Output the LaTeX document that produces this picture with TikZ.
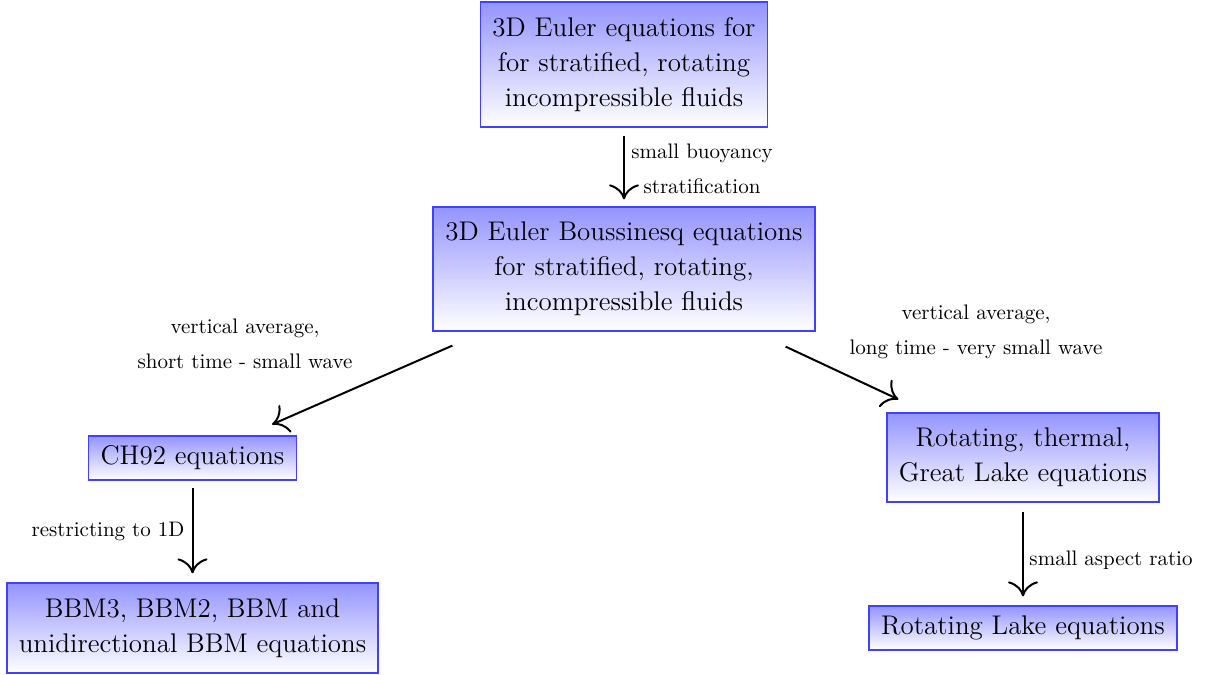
\documentclass[tikz,border=0pt]{standalone}
\usepackage{fontspec}
\usetikzlibrary{arrows.meta}
\tikzset{
  box/.style={draw=blue!75, line width=0.6pt, top color=blue!42, bottom color=white,
    align=center, inner sep=0pt, font=\fontsize{13.5}{17.5}\selectfont},
  lbl/.style={align=center, inner sep=0pt, font=\fontsize{10.5}{17.5}\selectfont},
  arr/.style={line width=1pt, -{To[length=7.5pt,width=15pt]}},
}
\begin{document}
\begin{tikzpicture}[x=0.5pt,y=-0.5pt]
\useasboundingbox (0,0) rectangle (1206,675);
\node[box, minimum width=143.5pt, minimum height=62.5pt] (b1) at (624,64.5)
  {3D Euler equations for\\for stratified, rotating\\incompressible fluids};
\node[box, minimum width=191pt, minimum height=62pt] (b2) at (624,269)
  {3D Euler Boussinesq equations\\for stratified, rotating,\\incompressible fluids};
\node[box, minimum width=104pt, minimum height=22pt] (ch) at (192.5,458) {CH92 equations};
\node[box, minimum width=185.5pt, minimum height=45pt] (bbm) at (192.5,628)
  {BBM3, BBM2, BBM and\\unidirectional BBM equations};
\node[box, minimum width=136pt, minimum height=44.5pt] (gl) at (1023,457.5)
  {Rotating, thermal,\\Great Lake equations};
\node[box, minimum width=154pt, minimum height=22pt] (rl) at (1023,628) {Rotating Lake equations};

\draw[arr, shorten <=4pt, shorten >=3.5pt] (b1.south) -- (b2.north);
\draw[arr] ([shift={(20,14)}]b2.south west) -- ([shift={(-25,-11)}]ch.north east);
\draw[arr] ([shift={(-30,15)}]b2.south east) -- ([shift={(12,-13)}]gl.north west);
\draw[arr, shorten <=3.5pt, shorten >=4.5pt] (ch.south) -- (bbm.north);
\draw[arr, shorten <=4.5pt, shorten >=4.5pt] (gl.south) -- (rl.north);

\node[lbl] (l1) at (702,169) {small buoyancy\\stratification};
\node[lbl] (l2) at (245,344) {vertical average,\\short time - small wave};
\node[lbl] (l3) at (976,332) {vertical average,\\long time - very small wave};
\node[lbl] (l4) at (108,531) {restricting to 1D};
\node[lbl] (l5) at (1111,560) {small aspect ratio};
\end{tikzpicture}
\end{document}
